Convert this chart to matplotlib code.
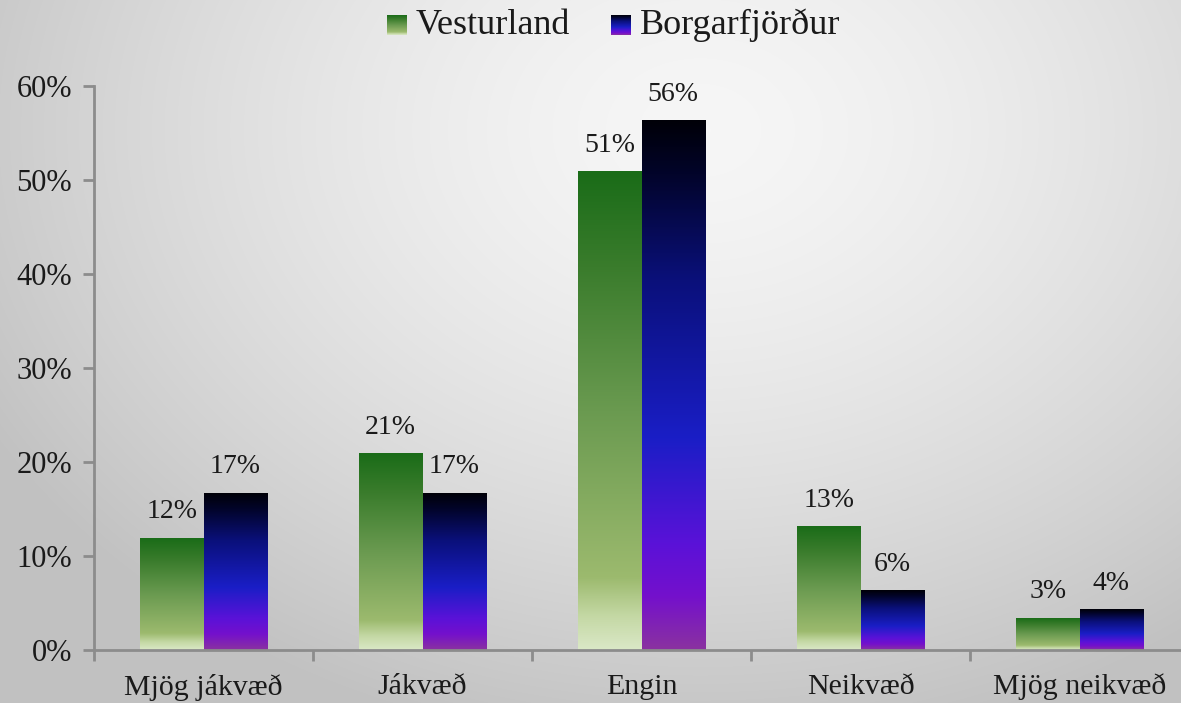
import numpy as np
import matplotlib
matplotlib.use("Agg")
import matplotlib.pyplot as plt
from matplotlib.colors import LinearSegmentedColormap

categories = ["Mjög jákvæð", "Jákvæð", "Engin", "Neikvæð", "Mjög neikvæð"]
series_names = ["Vesturland", "Borgarfjörður"]
vesturland = [11.9, 20.9, 50.9, 13.1, 3.4]
borgarfjordur = [16.7, 16.7, 56.3, 6.3, 4.3]
yticks = [0, 10, 20, 30, 40, 50, 60]

plt.rcParams["font.family"] = ["Liberation Serif", "DejaVu Serif"]

# gradients: value 0 = bottom of bar, 1 = top
green_cmap = LinearSegmentedColormap.from_list("g", [
    (0.0, "#dae8c6"), (0.07, "#c4d8a4"), (0.15, "#9cba6e"),
    (0.5, "#6a9a50"), (0.8, "#3a7c2c"), (1.0, "#1a6c18")])
blue_cmap = LinearSegmentedColormap.from_list("b", [
    (0.0, "#8a32a0"), (0.1, "#7410cc"), (0.2, "#5a12d8"),
    (0.4, "#1a1ec6"), (0.7, "#0a107a"), (0.9, "#02042a"), (1.0, "#000008")])
grad = np.linspace(0, 1, 256).reshape(-1, 1)

fig = plt.figure(figsize=(11.81, 7.03), dpi=100)

# radial background, light at the top, greyer towards the lower corners
bg = fig.add_axes([0, 0, 1, 1], zorder=-10)
yy, xx = np.mgrid[0:703, 0:1181]
r = np.sqrt(((xx - 700) / 850.0) ** 2 + ((yy - 130) / 650.0) ** 2)
shade = np.clip(0.965 - 0.22 * r ** 1.5, 0.76, 0.965)
bg.imshow(np.dstack([shade] * 3), aspect="auto", extent=[0, 1, 0, 1], origin="upper")
bg.set_axis_off()

ax = fig.add_axes([94 / 1181, 53 / 703, 1095 / 1181, 564 / 703])
ax.patch.set_alpha(0)
x = np.arange(len(categories))
w = 0.29


def grad_bar(xc, h, cmap):
    ax.imshow(grad, cmap=cmap, origin="lower", aspect="auto",
              extent=[xc - w / 2, xc + w / 2, 0, h], zorder=2)


for i in range(len(categories)):
    grad_bar(x[i] - w / 2, vesturland[i], green_cmap)
    grad_bar(x[i] + w / 2, borgarfjordur[i], blue_cmap)
    for xc, v in [(x[i] - w / 2, vesturland[i]), (x[i] + w / 2, borgarfjordur[i])]:
        ax.annotate(f"{round(v)}%", (xc, v), xytext=(0, 10), textcoords="offset points",
                    ha="center", va="bottom", fontsize=20, color="#1a1a1a")

ax.set_xlim(-0.5, 4.5)
ax.set_ylim(0, 60)
ax.set_yticks(yticks)
ax.set_yticklabels([f"{t}%" for t in yticks], fontsize=22, color="#1a1a1a")
ax.set_xticks(x)
ax.set_xticklabels(categories, fontsize=21.5, color="#1a1a1a")
ax.set_xticks(np.arange(-0.5, 5, 1), minor=True)
ax.tick_params(axis="x", which="major", length=0, pad=17)
ax.tick_params(axis="x", which="minor", length=8, width=2, color="#8c8c8c")
ax.tick_params(axis="y", length=8, width=2, color="#8c8c8c", pad=8)
for s in ["top", "right"]:
    ax.spines[s].set_visible(False)
for s in ["left", "bottom"]:
    ax.spines[s].set_color("#8c8c8c")
    ax.spines[s].set_linewidth(2)

# legend
leg_items = [(387, series_names[0], green_cmap), (611, series_names[1], blue_cmap)]
for px, name, cmap in leg_items:
    sq = fig.add_axes([px / 1181, (703 - 35) / 703, 20 / 1181, 20 / 703])
    sq.imshow(grad, cmap=cmap, origin="lower", aspect="auto")
    sq.set_axis_off()
    fig.text((px + 29) / 1181, (703 - 25) / 703, name, fontsize=26,
             va="center", ha="left", color="#1a1a1a")

fig.savefig("out.png", dpi=100)
